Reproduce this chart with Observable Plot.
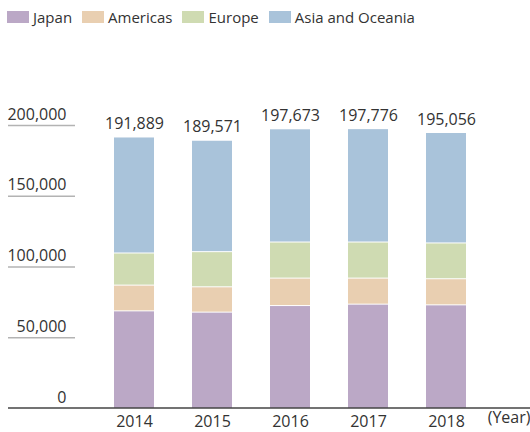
<!DOCTYPE html>
<html><head><meta charset="utf-8">
<script src="https://cdn.jsdelivr.net/npm/d3@7"></script>
<script src="https://cdn.jsdelivr.net/npm/@observablehq/plot@0.6"></script>
<style>
body{margin:0;background:#fff;font-family:"Open Sans",sans-serif;color:#333}
#legend{display:flex;height:34px;box-sizing:border-box;padding:8px 0 0 7px;font-size:15px;align-items:flex-start}
.item{display:flex;align-items:center;margin-right:10px;line-height:18px}
.sw{width:22px;height:12px;margin-right:4px}
</style></head><body>
<div id="legend"></div><div id="chart"></div>
<script>
const years = ["2014","2015","2016","2017","2018"];
const regions = ["Japan","Americas","Europe","Asia and Oceania"];
const colors = ["#bba8c6","#e9cfb1","#cfdbb2","#a9c3da"];
const japan = [69000,68100,72750,73750,73250];
const americas = [18200,17900,19400,18400,18450];
const europe = [22700,24850,25500,25500,25300];
const asia = [81989,78721,80023,80126,78056];
const totals = [191889,189571,197673,197776,195056];
const yTicks = [0,50000,100000,150000,200000];

const series = [japan, americas, europe, asia];
const data = [];
years.forEach((yr, i) => series.forEach((s, k) => data.push({year: yr, region: regions[k], value: s[i]})));
const totalData = years.map((yr, i) => ({year: yr, total: totals[i]}));

const legend = document.getElementById("legend");
regions.forEach((r, k) => {
  const it = document.createElement("div"); it.className = "item";
  const sw = document.createElement("div"); sw.className = "sw"; sw.style.background = colors[k];
  const tx = document.createElement("span"); tx.textContent = r;
  it.appendChild(sw); it.appendChild(tx); legend.appendChild(it);
});

const fmt = d3.format(",");
const plot = Plot.plot({
  width: 530, height: 398,
  marginLeft: 75, marginRight: 26, marginTop: 91, marginBottom: 24,
  style: {fontFamily: '"Open Sans", sans-serif', fontSize: "16px", color: "#333", background: "#fff", overflow: "visible"},
  x: {domain: years, padding: 0.49},
  y: {domain: [0, 200000]},
  color: {domain: regions, range: colors},
  marks: [
    Plot.axisY({ticks: yTicks.filter(d => d > 0), tickSize: 67, tickFormat: () => "", stroke: "#b3b3b3", strokeWidth: 1.5}),
    Plot.axisY({ticks: yTicks, tickSize: 0, tickPadding: 9, dy: -11, tickFormat: fmt, fill: "#333", fontSize: 16}),
    Plot.axisX({tickSize: 0, tickPadding: 7, label: null, fill: "#333", fontSize: 16}),
    Plot.barY(data, {x: "year", y: "value", fill: "region", insetTop: 1}),
    Plot.text(totalData, {x: "year", y: "total", text: d => fmt(d.total), dy: -13, fill: "#333", fontSize: 16}),
    Plot.text(["(Year)"], {frameAnchor: "bottom-right", dx: 26, dy: 14, textAnchor: "end", fill: "#333", fontSize: 16})
  ]
});
const y0 = plot.scale("y").apply(0);
d3.select(plot).append("line").attr("x1", 8).attr("x2", 530).attr("y1", y0).attr("y2", y0)
  .attr("stroke", "#444").attr("stroke-width", 1.5);
document.getElementById("chart").appendChild(plot);
</script>
</body></html>
